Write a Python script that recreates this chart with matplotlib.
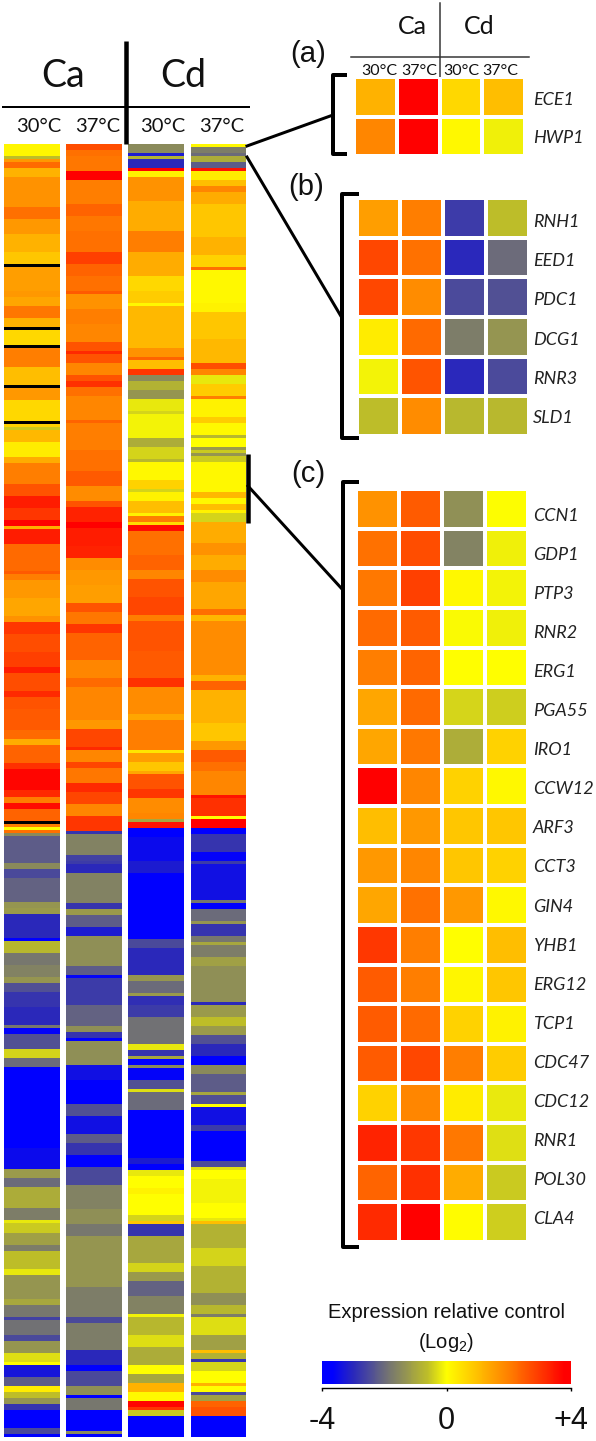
import matplotlib
matplotlib.use("Agg")
import matplotlib.pyplot as plt
import numpy as np
from matplotlib.cm import ScalarMappable
from matplotlib.colors import LinearSegmentedColormap, Normalize

nan = np.nan

# big heatmap, each column as log2 value + number of rows it holds (nan = missing row, drawn black)
ca30_vals = [0.15, -0.6, 1.6, 2.3, 1.2, 1.7, 2.2, 1.6, 1.2, 0.9, nan, 1.5,
             1.6, 1.4, 2.1, 1.2, nan, 0.6, nan, 2.0, 1.0, nan, 1.6, 0.6, nan, 0.7, -0.5, 1.1, 0.3, 1.3, 2.0, 2.6, 3.4, 3.0, 3.8, 1.3, 3.4, 2.3,
             2.5, 2.0, 1.6, 1.4, 1.7, 3.0, 2.7, 2.9, 3.4, 2.7, 3.2, 2.6, 2.5, 2.3, 1.3, 2.4, 3.1, 3.7, 3.2, 2.0, 3.6, 2.4, nan, 2.0, 0.0, 2.2, -1.5, -2.2,
             -1.5, -2.5, -2.1, -1.3, -1.2, -3.0, -4, -0.7, -1.8, -1.6, -1.3, -2.4, -2.8, -3.0, -1.8, -3.6, -2.4, -0.4, -2.0, -4,
             -3.5, -1.2, -2.0, -0.9, -1.7, -0.2, -0.5, -1.1, -1.7, -0.6, -0.2, -1.3, -1.0, -1.8, -2.6, -1.9, -2.5, -1.3, -0.3, 0.0, -3.3, -2.2, 0.3, -0.6, -1.3, -2.8, -4, -2.5, -3.7]
ca30_rows = [4, 1, 1, 2, 3, 10, 4, 5, 6, 4, 1, 8,
             2, 3, 4, 3, 1, 5, 1, 6, 6, 1, 4, 7, 1, 1, 1, 4, 5, 2, 7, 4, 4, 4, 2, 1, 5, 9,
             1, 2, 6, 6, 2, 4, 6, 5, 2, 6, 2, 4, 7, 3, 2, 6, 2, 7, 2, 2, 2, 4, 1, 1, 1, 1, 1, 9,
             2, 3, 8, 2, 2, 8, 1, 4, 4, 4, 2, 3, 5, 6, 1, 2, 5, 3, 3, 27,
             7, 3, 3, 7, 4, 1, 3, 4, 2, 6, 2, 8, 2, 4, 1, 5, 2, 4, 3, 1, 4, 3, 2, 2, 2, 2, 6, 2, 1]

ca37_vals = [2.7, 2.2, 2.1, 4, 2.0, 2.4, 2.1, 2.2, 2.9, 2.4, 2.2,
             2.5, 1.7, 2.0, 1.9, 2.6, 3.2, 2.6, 1.9, 2.6, 3.1, 2.2, 1.9, 2.4, 2.0, 2.2, 2.5, 1.8, 2.6, 3.3, 3.9, 3.4, 3.3, 1.8,
             1.6, 1.5, 2.6, 2.1, 3.0, 2.4, 1.9, 2.3, 1.9, 1.6, 2.8, 3.2, 1.9, 2.8, 2.1, 3.2, 2.8, 1.9, 3.0, -2.8, -1.6, -2.6,
             -2.7, -3.0, -1.6, -2.8, -1.2, -2.2, -3.2, -1.4, -2.2, -3.6, -2.7, -2.1, -1.4, -2.8, -4, -1.4, -3.4, -4, -2.4, -3.4, -2.2, -2.8,
             -2.8, -4, -2.5, -1.6, -1.4, -1.8, -1.3, -1.7, -2.5, -1.7, -3.0, -3.7, -2.5, -1.4, -4, -1.8, -4, -1.5, -4]
ca37_rows = [2, 2, 5, 3, 8, 4, 5, 7, 4, 4, 5,
             1, 5, 5, 6, 3, 1, 3, 4, 2, 2, 3, 8, 1, 9, 7, 5, 5, 2, 5, 2, 6, 4, 4,
             5, 6, 3, 4, 3, 9, 6, 3, 11, 3, 6, 1, 4, 2, 5, 3, 4, 4, 5, 1, 7, 2,
             1, 3, 10, 2, 2, 4, 3, 10, 3, 1, 9, 7, 2, 2, 1, 8, 5, 8, 4, 6, 3, 2,
             2, 4, 6, 8, 5, 4, 17, 10, 2, 9, 5, 2, 5, 3, 1, 4, 7, 1, 1]

cd30_vals = [-1.5, -3.2, -0.8, -3.0, 4, 0.2, 1.7, 1.3, 2.0, 1.3, 0.6,
             0.8, 0.1, 1.1, 1.7, 2.4, 1.0, 3.0, -1.5, -0.8, -1.3, -0.2, -0.4, -0.1, -0.9, -0.4, -0.7, 0.1, 0.7, -0.4, 0.2, 1.0, 0.2, 2.0, 0.5, 3.6, 2.2, 2.4,
             1.9, 2.6, 2.8, 2.0, 2.6, 2.5, 3.1, 1.8, 1.4, 2.0, 0.4, 1.5, 0.9, 1.4, 2.6, 3.0, 1.8, 1.9, -1.0, 3.5, -4, -3.5,
             -3.2, -4, -2.5, -3.0, -1.3, -2.0, -1.2, -2.9, -2.7, -1.9, -0.2, -2.8, -1.0, -3.7, -1.5, -3.6, -2.4, -0.3, -2.0, -4,
             -4, -3.2, -4, -0.2, 0.0, 0.2, 0.0, -0.4, 0.9, -2.8, -1.0, -0.4, -1.2, -2.1, -1.6, -0.1, -0.7, -0.3, -0.9, 0.0, -1.0, 1.2, 0.1, 3.7, 3.0, -0.5, -4]
cd30_rows = [3, 1, 1, 3, 1, 2, 8, 10, 7, 8, 5,
             4, 1, 14, 3, 1, 3, 2, 2, 3, 3, 4, 1, 8, 3, 4, 1, 6, 3, 1, 3, 4, 1, 2, 1, 2, 8, 5,
             3, 6, 6, 2, 10, 9, 3, 9, 2, 10, 1, 3, 3, 1, 5, 3, 5, 2, 1, 2, 3, 8,
             4, 22, 3, 9, 2, 4, 1, 3, 4, 9, 2, 2, 1, 2, 1, 4, 3, 1, 6, 13,
             3, 2, 2, 2, 4, 2, 7, 2, 1, 4, 9, 3, 3, 5, 6, 1, 6, 4, 6, 3, 3, 3, 3, 2, 1, 2, 7]

cd37_vals = [0.1, -1.7, -2.0, -0.9, -2.2, 3.5, 0.3, 1.0, 1.9, 1.3, 0.9, 1.2, 0.7, 2.2, 0.1,
             0.1, 0.2, 0.9, 1.1, 2.7, 1.9, -0.2, 0.8, 2.0, 0.2, 0.8, 0.1, -0.7, 0.0, -1.2, -0.5, -1.3, -0.5, 0.1, 1.1, 0.1, 1.0, 0.2, -0.4, 1.3, 1.7, 1.3,
             1.8, 1.4, 2.2, 1.1, 1.8, 1.2, 2.4, 1.2, 0.9, 1.6, 2.5, 2.2, 1.9, 3.5, 3.1, 0.0, 3.8, -4, -2.8, -3.6,
             -2.7, -3.4, -1.8, -3.9, -2.0, -1.3, -2.8, -1.8, -1.0, -1.7, -1.1, -1.4, -3.0, -1.2, -0.6, -1.2, -2.4, -3.0, -3.9, -1.5, -2.2, -1.0, -2.4, 0.0, -3.4, -2.7, -4,
             -4, -2.5, -0.3, 0.0, -0.1, 0.0, -0.2, 1.0, -0.8, -0.4, -0.8, -1.4, -0.7, -1.7, -0.3, -1.1, 1.0, -0.8, -2.8, -0.4, 0.0, 1.2, 0.0, -2.5, -1.1, 2.4, 2.6, -4]
cd37_rows = [1, 2, 1, 2, 2, 1, 3, 2, 2, 4, 11, 6, 4, 1, 7,
             4, 3, 9, 8, 2, 2, 3, 4, 1, 6, 2, 4, 1, 3, 1, 1, 1, 2, 10, 2, 2, 2, 1, 3, 7, 4, 5,
             4, 9, 2, 2, 18, 2, 3, 11, 6, 3, 4, 3, 8, 1, 6, 1, 3, 2, 6, 3,
             1, 12, 1, 2, 4, 1, 4, 2, 1, 4, 3, 12, 1, 4, 3, 3, 3, 4, 3, 3, 6, 1, 3, 1, 6, 2, 6,
             4, 2, 1, 3, 8, 5, 1, 1, 8, 6, 9, 4, 3, 1, 6, 5, 1, 2, 1, 3, 4, 1, 2, 1, 2, 2, 3, 7]

# gene panels, columns are Ca 30, Ca 37, Cd 30, Cd 37
genes_a = ["ECE1", "HWP1"]
values_a = [[1.2, 4, 0.6, 1.0],
            [1.9, 4, 0.1, -0.15]]

genes_b = ["RNH1", "EED1", "PDC1", "DCG1", "RNR3", "SLD1"]
values_b = [[1.5, 2.0, -2.7, -0.6],
            [2.8, 2.2, -3.0, -2.0],
            [2.8, 1.8, -2.5, -2.4],
            [0.3, 2.3, -1.7, -1.3],
            [-0.1, 2.6, -3.0, -2.5],
            [-0.6, 1.8, -0.7, -0.7]]

genes_c = ["CCN1", "GDP1", "PTP3", "RNR2", "ERG1", "PGA55", "IRO1", "CCW12", "ARF3", "CCT3",
           "GIN4", "YHB1", "ERG12", "TCP1", "CDC47", "CDC12", "RNR1", "POL30", "CLA4"]
values_c = [[1.7, 2.5, -1.4, -0.02],
            [2.2, 2.7, -1.6, -0.15],
            [2.1, 2.9, 0.1, -0.1],
            [2.3, 2.5, -0.05, -0.15],
            [2.0, 2.4, 0.0, 0.0],
            [1.4, 2.3, -0.4, -0.45],
            [1.4, 2.1, -0.9, 0.7],
            [3.8, 1.9, 0.7, 0.1],
            [1.0, 1.6, 0.9, 0.9],
            [1.6, 1.9, 0.9, 0.7],
            [1.4, 2.2, 1.6, 0.1],
            [3.0, 2.0, 0.0, 1.0],
            [2.5, 2.0, 0.15, 0.9],
            [2.5, 2.3, 0.7, 0.2],
            [2.5, 2.8, 2.0, 0.8],
            [0.7, 1.9, 0.3, -0.2],
            [3.3, 3.0, 2.1, -0.3],
            [2.4, 3.1, 1.3, -0.5],
            [3.2, 3.8, 0.05, -0.45]]

temps = ["30°C", "37°C", "30°C", "37°C"]

W, H = 596, 1441
LINE = 72 / 100  # points per pixel at dpi 100

norm = Normalize(-4, 4)
cmap = LinearSegmentedColormap.from_list(
    "expr",
    [(0.0, "#0000ff"), (0.04, "#0000ff"), (0.125, "#2a28bb"), (0.275, "#78786e"), (0.425, "#bebe28"),
     (0.5, "#ffff00"), (0.75, "#ff8000"), (0.975, "#ff0000"), (1.0, "#ff0000")],
)
cmap.set_bad("black")


def px_axes(x0, y0, x1, y1):
    return fig.add_axes([x0 / W, 1 - y1 / H, (x1 - x0) / W, (y1 - y0) / H])


fig = plt.figure(figsize=(W / 100, H / 100), dpi=100)

# overlay in pixel units for the hand drawn parts of the figure
ax = fig.add_axes([0, 0, 1, 1])

columns = [(ca30_vals, ca30_rows, 4, 60), (ca37_vals, ca37_rows, 66, 122),
           (cd30_vals, cd30_rows, 128, 184), (cd37_vals, cd37_rows, 191, 246)]
for vals, rows, x0, x1 in columns:
    col = np.repeat(vals, rows).reshape(-1, 1)
    ax.imshow(col, cmap=cmap, norm=norm, aspect="auto", interpolation="nearest",
              extent=(x0, x1, 1437, 144))

ax.set_xlim(0, W)
ax.set_ylim(H, 0)
ax.axis("off")

ax.plot([3, 249], [107, 107], color="black", lw=2 * LINE)
ax.plot([126, 126], [41, 144], color="black", lw=4.5 * LINE, solid_capstyle="butt")
ax.text(63, 76, "Ca", family="Lato", fontsize=27, ha="center", va="center", color="#111111")
ax.text(183, 76, "Cd", family="Lato", fontsize=27, ha="center", va="center", color="#111111")
for x, t in zip([39, 98, 163, 222], temps):
    ax.text(x, 127, t, family="Lato", fontsize=14.5, ha="center", va="center", color="#111111")

# gene panels
panels = [(values_a, 354, 77, 525, 156), (values_b, 357, 198, 529, 436), (values_c, 356, 489, 528, 1242)]
for values, x0, y0, x1, y1 in panels:
    pax = px_axes(x0, y0, x1, y1)
    pax.pcolormesh(np.array(values), cmap=cmap, norm=norm, edgecolors="white", linewidth=4 * LINE)
    pax.invert_yaxis()
    pax.axis("off")

for genes, first, last in [(genes_a, 100, 138), (genes_b, 222, 418), (genes_c, 516, 1219)]:
    for g, y in zip(genes, np.linspace(first, last, len(genes))):
        ax.text(533, y, g, family="Lato", style="italic", fontsize=13, ha="left", va="center", color="#222222")

# header of panel a
ax.plot([351, 529], [57, 57], color="#333333", lw=1.5 * LINE)
ax.plot([440, 440], [3, 79], color="#333333", lw=1.5 * LINE)
ax.text(412, 27, "Ca", family="Lato", fontsize=18, ha="center", va="center", color="#111111")
ax.text(479, 27, "Cd", family="Lato", fontsize=18, ha="center", va="center", color="#111111")
for x, t in zip([379, 419, 461, 500], temps):
    ax.text(x, 71, t, family="Lato", fontsize=11.5, ha="center", va="center", color="#111111")

for x, y, t in [(308, 54, "(a)"), (306, 187, "(b)"), (308, 474, "(c)")]:
    ax.text(x, y, t, family="Liberation Sans", fontsize=21, ha="center", va="center", color="#111111")

# brackets and connector lines
for x, top, bottom, end in [(333, 75, 154, 345), (342, 194, 438, 357), (343, 482, 1247, 357)]:
    ax.plot([end, x, x, end], [top, top, bottom, bottom], color="black", lw=4 * LINE, solid_joinstyle="round")

ax.plot([247, 333], [146, 115], color="black", lw=3 * LINE)
ax.plot([247, 342], [157, 318], color="black", lw=3 * LINE)
ax.plot([248, 248], [454, 523], color="black", lw=4.5 * LINE, solid_capstyle="butt")
ax.plot([248, 342], [486, 589], color="black", lw=3 * LINE)

# colour key
ax.text(447, 1313, "Expression relative control", family="Liberation Sans", fontsize=14.5,
        ha="center", va="center", color="#111111")
plt.rcParams["mathtext.default"] = "regular"
ax.text(446, 1343, "(Log$_2$)", family="Liberation Sans", fontsize=14.5, ha="center", va="center", color="#111111")

cax = px_axes(322, 1361, 571, 1384)
cb = fig.colorbar(ScalarMappable(norm=norm, cmap=cmap), cax=cax, orientation="horizontal")
cb.set_ticks([-4, 0, 4], labels=["-4", "0", "+4"])
cb.outline.set_visible(False)
cb.ax.spines["bottom"].set_visible(True)
cb.ax.spines["bottom"].set_position(("outward", 3))
cb.ax.spines["bottom"].set_linewidth(1)
cb.ax.tick_params(axis="x", length=2.5, width=1, pad=10, labelsize=22, labelcolor="#111111")
for label in cb.ax.get_xticklabels():
    label.set_family("Liberation Sans")

fig.savefig("out.png", dpi=100)
